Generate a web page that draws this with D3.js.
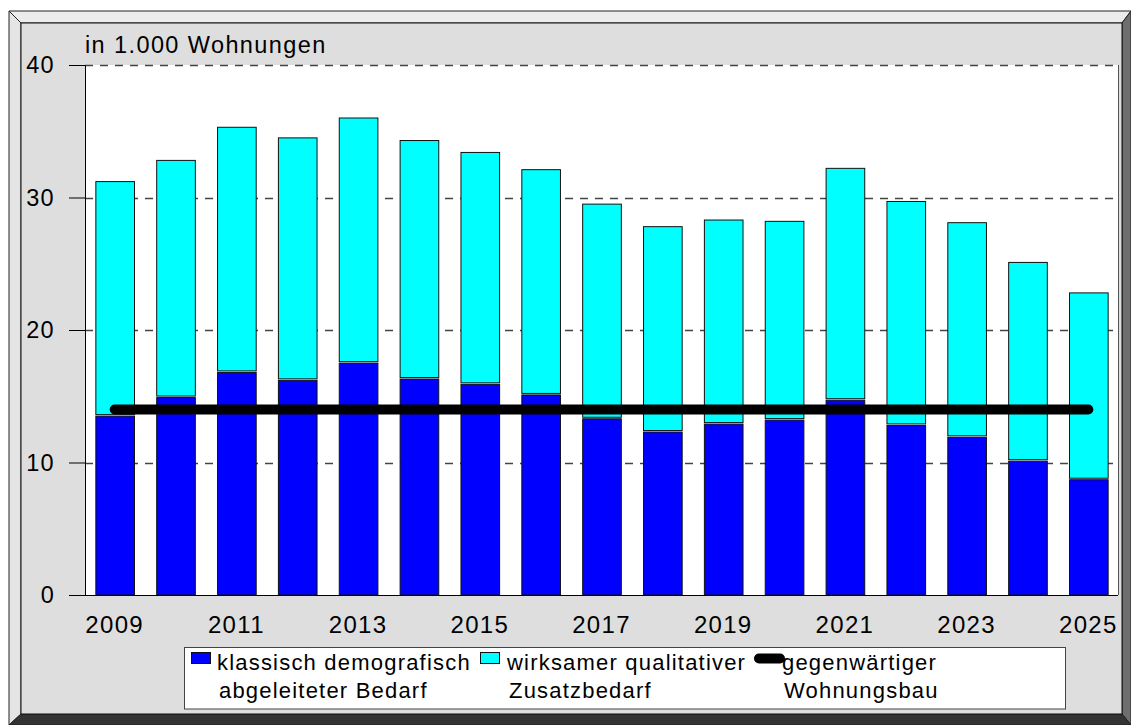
<!DOCTYPE html>
<html><head><meta charset="utf-8">
<script src="https://cdn.jsdelivr.net/npm/d3@7/dist/d3.min.js"></script>
<style>
body{margin:0;background:#fff;}
svg text{font-family:"Liberation Sans",Arial,sans-serif;fill:#000;}
</style></head>
<body><svg id="c" width="1131" height="725"></svg>
<script>
const years = ["2009","2010","2011","2012","2013","2014","2015","2016","2017","2018","2019","2020","2021","2022","2023","2024","2025"];
const demografisch = [13.5,14.9,16.8,16.2,17.5,16.3,15.9,15.1,13.3,12.3,12.9,13.2,14.7,12.8,11.9,10.1,8.7];
const qualitativ = [17.7,17.9,18.5,18.3,18.5,18.0,17.5,17.0,16.2,15.5,15.4,15.0,17.5,16.9,16.2,15.0,14.1];
const wohnungsbau = [14,14,14,14,14,14,14,14,14,14,14,14,14,14,14,14,14];
const yTicks = [0,10,20,30,40];
const xTickLabels = ["2009","2011","2013","2015","2017","2019","2021","2023","2025"];
const seriesNames = [["klassisch demografisch","abgeleiteter Bedarf"],["wirksamer qualitativer","Zusatzbedarf"],["gegenwärtiger","Wohnungsbau"]];
const colors = {demo:"#0000ff", qual:"#00ffff", line:"#000000"};

const svg = d3.select("#c");

// frame
svg.append("rect").attr("x",9).attr("y",11).attr("width",1122).attr("height",714).attr("fill","#dedede");
svg.append("polygon").attr("points","9,11 1131,11 1122,23 21,23").attr("fill","#ececec").attr("stroke","#222").attr("stroke-width",1);
svg.append("polygon").attr("points","9,11 21,23 21,714 9,725").attr("fill","#e4e4e4").attr("stroke","#222").attr("stroke-width",1);
svg.append("polygon").attr("points","1131,11 1131,725 1122,714 1122,23").attr("fill","#6e6e6e").attr("stroke","#222").attr("stroke-width",1);
svg.append("polygon").attr("points","9,725 1131,725 1122,714 21,714").attr("fill","#333333").attr("stroke","#222").attr("stroke-width",1);
svg.append("rect").attr("x",21).attr("y",23).attr("width",1101).attr("height",691).attr("fill","#dedede").attr("stroke","#111").attr("stroke-width",1);

const m = {l:85, r:1118, t:65, b:595};
const x = d3.scaleBand().domain(years).range([m.l,m.r]).paddingInner(0.365).paddingOuter(0.17);
const y = d3.scaleLinear().domain([0,40]).range([m.b,m.t]);

// plot area
svg.append("rect").attr("x",m.l).attr("y",m.t).attr("width",m.r-m.l).attr("height",m.b-m.t).attr("fill","#fff");
svg.append("line").attr("x1",m.r+0.5).attr("x2",m.r+0.5).attr("y1",m.t).attr("y2",m.b).attr("stroke","#555");

// gridlines
svg.append("g").selectAll("line").data(yTicks.filter(d=>d>0)).join("line")
  .attr("x1",m.l).attr("x2",m.r).attr("y1",d=>Math.round(y(d))+0.5).attr("y2",d=>Math.round(y(d))+0.5)
  .attr("stroke","#444").attr("stroke-width",1.3).attr("stroke-dasharray","8,7");

// stacked bars
const rows = years.map((yr,i)=>({year:yr, demo:demografisch[i], qual:qualitativ[i]}));
const stack = d3.stack().keys(["demo","qual"])(rows);
const gap = 1.5;
stack.forEach(layer=>{
  svg.append("g").selectAll("rect").data(layer).join("rect")
    .attr("x",d=>x(d.data.year)+0.5)
    .attr("width",x.bandwidth())
    .attr("y",d=>y(d[1]))
    .attr("height",d=>y(d[0])-y(d[1]) - (layer.key==="qual"?gap:0))
    .attr("fill",colors[layer.key])
    .attr("stroke","#111").attr("stroke-width",1);
});

// line
const line = d3.line().x((d,i)=>x(years[i])+x.bandwidth()/2).y(d=>y(d));
svg.append("path").datum(wohnungsbau).attr("d",line).attr("fill","none")
  .attr("stroke",colors.line).attr("stroke-width",10).attr("stroke-linecap","round");

// axes
const ya = svg.append("g").attr("transform",`translate(${m.l},0)`)
  .call(d3.axisLeft(y).tickValues(yTicks).tickSize(16).tickPadding(14).tickFormat(d3.format("d")));
ya.select(".domain").attr("stroke","#000");
ya.selectAll(".tick line").attr("stroke","#000");
ya.selectAll("text").attr("font-size",23.5).attr("letter-spacing","1.3px").attr("font-family","Liberation Sans, Arial, sans-serif");

const xa = svg.append("g").attr("transform",`translate(0,${m.b})`)
  .call(d3.axisBottom(x).tickValues(xTickLabels).tickSize(0).tickPadding(21));
xa.select(".domain").remove();
xa.selectAll("text").attr("font-size",24).attr("letter-spacing","1.3px").attr("font-family","Liberation Sans, Arial, sans-serif");
svg.append("line").attr("x1",m.l-16).attr("x2",m.r).attr("y1",m.b+0.5).attr("y2",m.b+0.5).attr("stroke","#000");

// title
svg.append("text").attr("x",85).attr("y",53).attr("font-size",23.5).attr("letter-spacing","1.4px").text("in 1.000 Wohnungen");

// legend
svg.append("rect").attr("x",184.5).attr("y",647.5).attr("width",881).attr("height",61.5).attr("fill","#fff").attr("stroke","#444");
const lg = [
  {type:"rect", color:colors.demo, sx:191, tx:217},
  {type:"rect", color:colors.qual, sx:480, tx:507},
  {type:"line", color:colors.line, sx:754, tx:782}
];
lg.forEach((it,i)=>{
  if(it.type==="rect"){
    svg.append("rect").attr("x",it.sx+0.5).attr("y",652.5).attr("width",19).attr("height",11).attr("fill",it.color).attr("stroke","#111");
  } else {
    svg.append("line").attr("x1",it.sx+5).attr("x2",it.sx+26).attr("y1",658.5).attr("y2",658.5).attr("stroke",it.color).attr("stroke-width",10).attr("stroke-linecap","round");
  }
  const t = svg.append("text").attr("x",it.tx).attr("y",670).attr("font-size",22).attr("letter-spacing","1.2px");
  t.append("tspan").attr("x",it.tx).attr("y",670).text(seriesNames[i][0]);
  t.append("tspan").attr("x",it.tx+2).attr("y",698).text(seriesNames[i][1]);
});
</script></body></html>
